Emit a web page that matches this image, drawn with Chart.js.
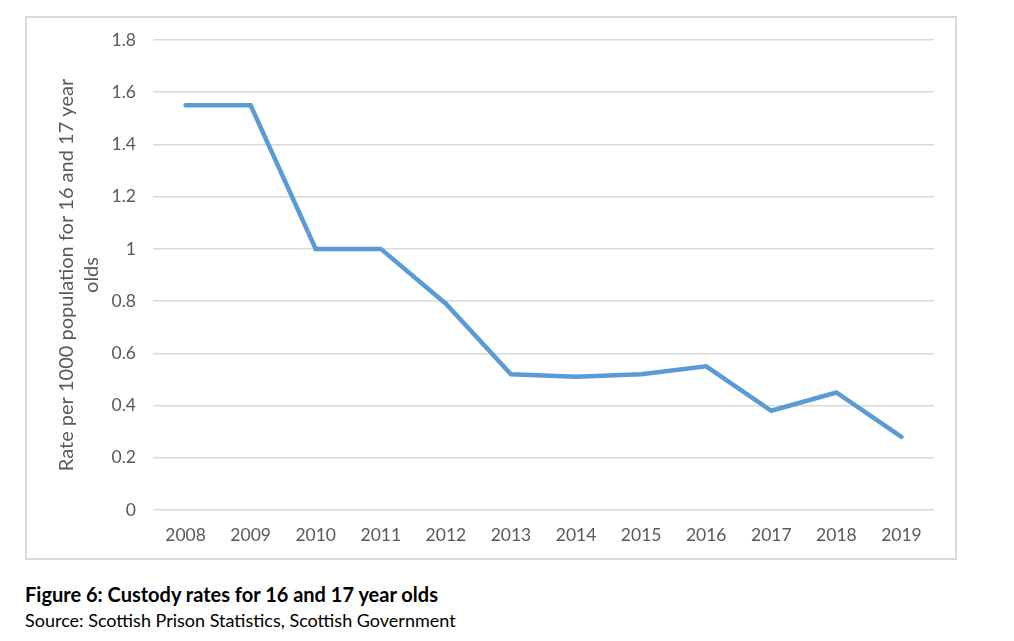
<!DOCTYPE html>
<html>
<head>
<meta charset="utf-8">
<script src="https://cdn.jsdelivr.net/npm/chart.js@4"></script>
<style>
  body { margin: 0; background: #fff; font-family: Lato, sans-serif; }
  #box {
    position: absolute; left: 25px; top: 16px;
    width: 928px; height: 540px;
    border: 2px solid #d9d9d9;
  }
  #caption { position: absolute; left: 25px; top: 582px; font-size: 20px; font-weight: bold; color: #000; }
  #source { position: absolute; left: 25px; top: 609px; font-size: 18px; color: #000; }
</style>
</head>
<body>
<div id="box"><canvas id="grafico" width="928" height="540"></canvas></div>
<div id="caption">Figure 6: Custody rates for 16 and 17 year olds</div>
<div id="source">Source: Scottish Prison Statistics, Scottish Government</div>
<script>
const anos = ["2008", "2009", "2010", "2011", "2012", "2013", "2014", "2015", "2016", "2017", "2018", "2019"];
const taxas = [1.55, 1.55, 1.0, 1.0, 0.79, 0.52, 0.51, 0.52, 0.55, 0.38, 0.45, 0.28];
const tituloEixoY = ["Rate per 1000 population for 16 and 17 year", "olds"];

const cinza = "#595959";

new Chart(document.getElementById("grafico"), {
    type: "line",
    data: {
        labels: anos,
        datasets: [{
            data: taxas,
            borderColor: "#5b9bd5",
            borderWidth: 4.5,
            borderCapStyle: "round",
            pointRadius: 0,
            tension: 0,
            fill: false
        }]
    },
    options: {
        responsive: false,
        animation: false,
        layout: { padding: { left: 0, right: 21, top: 22, bottom: 0 } },
        plugins: { legend: { display: false }, tooltip: { enabled: false } },
        scales: {
            x: {
                offset: true,
                grid: { display: false, drawTicks: false },
                border: { display: false },
                ticks: { color: cinza, font: { family: "Lato", size: 17.5 }, padding: 15, maxRotation: 0 },
                afterFit: (s) => { s.height = 48; }
            },
            y: {
                min: 0,
                max: 1.8,
                ticks: { stepSize: 0.2, color: cinza, font: { family: "Lato", size: 17.5 }, padding: 17,
                         callback: (v) => Math.round(v * 10) / 10 },
                grid: { color: "#d9d9d9", lineWidth: 1.5, drawTicks: false },
                border: { display: false },
                title: {
                    display: true,
                    text: tituloEixoY,
                    color: cinza,
                    font: { family: "Lato", size: 20, lineHeight: 1.25 },
                    padding: { top: 27, bottom: 0 }
                },
                afterFit: (s) => { s.width = 126; s.paddingTop = 0; s.paddingBottom = 0; }
            }
        }
    }
});
</script>
</body>
</html>
